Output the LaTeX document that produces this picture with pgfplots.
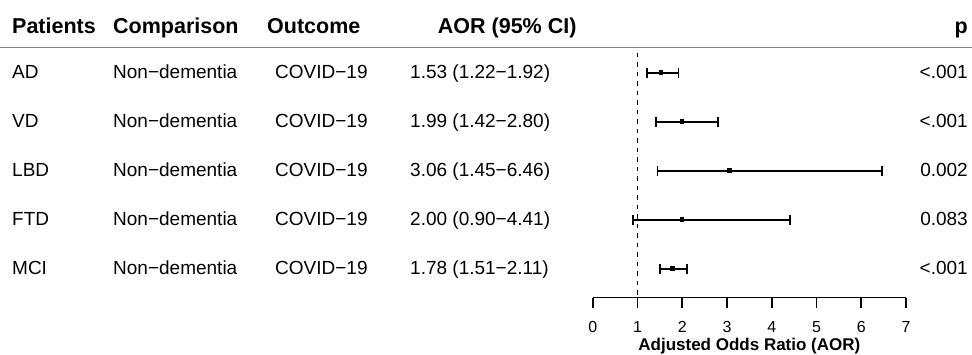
\documentclass[border=0pt]{standalone}
\usepackage{fontspec}
\setmainfont{Liberation Sans}
\usepackage{pgfplots}
\pgfplotsset{compat=1.18}
\usepackage{pgfplotstable}

\pgfplotstableread{
row or lo hi ep em
5 1.53 1.22 1.92 0.39 0.31
4 1.99 1.42 2.80 0.81 0.57
3 3.06 1.45 6.46 3.40 1.61
2 2.00 0.90 4.41 2.41 1.10
1 1.78 1.51 2.11 0.33 0.27
}\forestdata

\newcommand\bodyfont{\fontsize{19}{22}\selectfont}
\newcommand\headfont{\fontsize{21.5}{24}\selectfont\bfseries}

\begin{document}
\begin{tikzpicture}
\useasboundingbox (0pt,0pt) rectangle (972pt,-354pt);
\draw[black!50, line width=1.3pt] (0pt,-47.5pt) -- (972pt,-47.5pt);

\begin{axis}[
  at={(592.7pt,-297.5pt)}, anchor=south west,
  scale only axis, width=313.3pt, height=244.8pt,
  xmin=0, xmax=7, ymin=0.412, ymax=5.408,
  axis x line=bottom, axis y line=none,
  x axis line style={-, line width=1.6pt},
  xtick={0,1,2,3,4,5,6,7},
  tick align=outside, major tick length=10pt,
  tick style={line width=1.6pt, black},
  xticklabel style={font=\fontsize{16}{19}\selectfont, yshift=-10pt},
  /pgf/number format/assume math mode=true,
  xlabel={Adjusted Odds Ratio (AOR)},
  xlabel style={font=\fontsize{17}{20}\selectfont\bfseries, at={(axis description cs:0.5,0)}, anchor=base, yshift=-52.5pt},
  clip=false,
]
\addplot[black, line width=1.5pt, dash pattern=on 4.5pt off 5pt] coordinates {(1,5.408) (1,0.412)};
\addplot[black, line width=1.7pt, only marks, mark=square*, mark size=1.4pt,
  error bars/.cd, x dir=both, x explicit, error mark=|,
  error bar style={line width=1.7pt, solid, black},
  error mark options={line width=1.7pt, mark size=5pt, black}]
  table[x=or, y=row, x error plus=ep, x error minus=em] {\forestdata};
\end{axis}

% header
\node[anchor=base west, inner sep=0pt, font=\headfont] at (12pt,-33.5pt) {Patients};
\node[anchor=base west, inner sep=0pt, font=\headfont] at (113pt,-33.5pt) {Comparison};
\node[anchor=base west, inner sep=0pt, font=\headfont] at (267pt,-33.5pt) {Outcome};
\node[anchor=base east, inner sep=0pt, font=\headfont] at (576.7pt,-33.5pt) {AOR (95\% CI)};
\node[anchor=base east, inner sep=0pt, font=\headfont] at (968pt,-33.5pt) {p};

% rows
\foreach \name/\aor/\p/\yy in {AD/1.53 (1.22−1.92)/<.001/78.7, VD/1.99 (1.42−2.80)/<.001/127.7, LBD/3.06 (1.45−6.46)/0.002/176.7, FTD/2.00 (0.90−4.41)/0.083/225.7, MCI/1.78 (1.51−2.11)/<.001/274.7}{
  \node[anchor=base west, inner sep=0pt, font=\bodyfont] at (12pt,-\yy pt) {\name};
  \node[anchor=base west, inner sep=0pt, font=\bodyfont] at (113pt,-\yy pt) {Non−dementia};
  \node[anchor=base west, inner sep=0pt, font=\bodyfont] at (275pt,-\yy pt) {COVID−19};
  \node[anchor=base west, inner sep=0pt, font=\bodyfont] at (410pt,-\yy pt) {\aor};
  \node[anchor=base east, inner sep=0pt, font=\bodyfont] at (968pt,-\yy pt) {\p};
}
\end{tikzpicture}
\end{document}
